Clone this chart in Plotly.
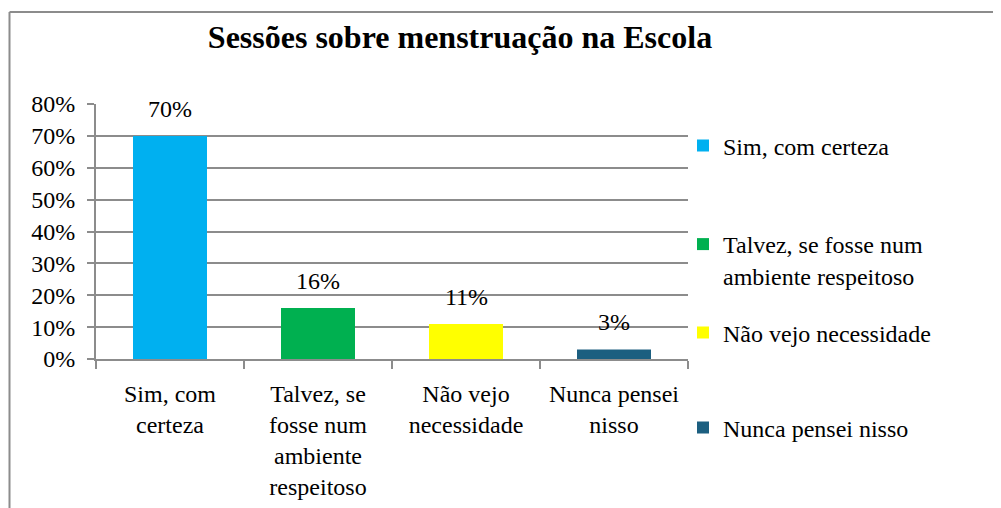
import plotly.graph_objects as go

categories = ["Sim, com certeza", "Talvez, se fosse num ambiente respeitoso",
              "Não vejo necessidade", "Nunca pensei nisso"]
tick_labels = ["Sim, com<br>certeza", "Talvez, se<br>fosse num<br>ambiente<br>respeitoso",
               "Não vejo<br>necessidade", "Nunca pensei<br>nisso"]
legend_labels = ["Sim, com certeza", "Talvez, se fosse num<br>ambiente respeitoso",
                 "Não vejo necessidade", "Nunca pensei nisso"]
values = [0.70, 0.16, 0.11, 0.03]
colors = ["#00B0F0", "#00B050", "#FFFF00", "#1C5F80"]
y_ticks = [0, 0.1, 0.2, 0.3, 0.4, 0.5, 0.6, 0.7, 0.8]

FONT = "Liberation Serif"
GRAY = "#8c8c8c"

# page offset of the plot div (body margin) compensated here
OFF = 8
W, H = 1001 - OFF, 508 - OFF
L, R, T, B = 96 - OFF, 1001 - 688, 104 - OFF, 508 - 359
pw, ph = W - L - R, H - T - B

def px_x(p):
    return (p - OFF - L) / pw

def px_y(p):
    return (H - B - (p - OFF)) / ph

fig = go.Figure()
legend_names = ["legend", "legend2", "legend3", "legend4"]
legend_y = [146, 242, 333, 428]
for i, (cat, val, col) in enumerate(zip(categories, values, colors)):
    fig.add_trace(go.Bar(
        x=[cat], y=[val], name=legend_labels[i], marker_color=col,
        marker_line_width=0, width=0.5, legend=legend_names[i],
        hoverinfo="skip",
    ))
    fig.add_annotation(x=cat, y=val, text=f"{round(val*100)}%", showarrow=False,
                       yanchor="bottom", yshift=12,
                       font=dict(family=FONT, size=24, color="#000"))

legend_common = dict(font=dict(family=FONT, size=24, color="#000"),
                     bgcolor="rgba(0,0,0,0)", borderwidth=0,
                     xanchor="left", yanchor="middle")
layout_legends = {}
for i, name in enumerate(legend_names):
    d = dict(legend_common)
    d["x"] = px_x(683)
    d["y"] = px_y(legend_y[i])
    if i == 1:
        d["yanchor"] = "top"
        d["y"] = px_y(legend_y[i] - 20)
        d["valign"] = "top"
    layout_legends[name] = d

fig.update_layout(
    width=W, height=H,
    margin=dict(l=L, r=R, t=T, b=B, autoexpand=False),
    paper_bgcolor="white", plot_bgcolor="white",
    barmode="overlay",
    showlegend=True,
    title=dict(text="<b>Sessões sobre menstruação na Escola</b>",
               font=dict(family=FONT, size=32, color="#000"),
               x=px_x(460), xref="paper", xanchor="center",
               y=1 - (37 - OFF) / H, yref="container", yanchor="middle"),
    font=dict(family=FONT, size=24, color="#000"),
    **layout_legends,
)

fig.update_xaxes(
    type="category", categoryorder="array", categoryarray=categories,
    tickvals=categories, ticktext=tick_labels, automargin=False,
    showline=True, linecolor=GRAY, linewidth=2,
    ticks="outside", tickson="boundaries", ticklen=8, tickcolor=GRAY, tickwidth=2,
    showgrid=False, zeroline=False, ticklabelstandoff=12,
    tickfont=dict(family=FONT, size=24, color="#000"),
)
fig.update_yaxes(
    range=[0, 0.8], tickvals=y_ticks, tickformat=".0%", automargin=False,
    showline=True, linecolor=GRAY, linewidth=2,
    ticks="outside", ticklen=7, tickcolor=GRAY, tickwidth=2,
    showgrid=True, gridcolor=GRAY, gridwidth=2, zeroline=False,
    ticklabelstandoff=7,
    tickfont=dict(family=FONT, size=24, color="#000"),
)

# outer chart frame (left and top edges visible)
fig.add_shape(type="line", xref="paper", yref="paper",
              x0=px_x(9.5), x1=px_x(9.5), y0=px_y(12), y1=px_y(520),
              line=dict(color=GRAY, width=2))
fig.add_shape(type="line", xref="paper", yref="paper",
              x0=px_x(9.5), x1=px_x(1010), y0=px_y(12), y1=px_y(12),
              line=dict(color=GRAY, width=2))

fig.write_html("out.html")
